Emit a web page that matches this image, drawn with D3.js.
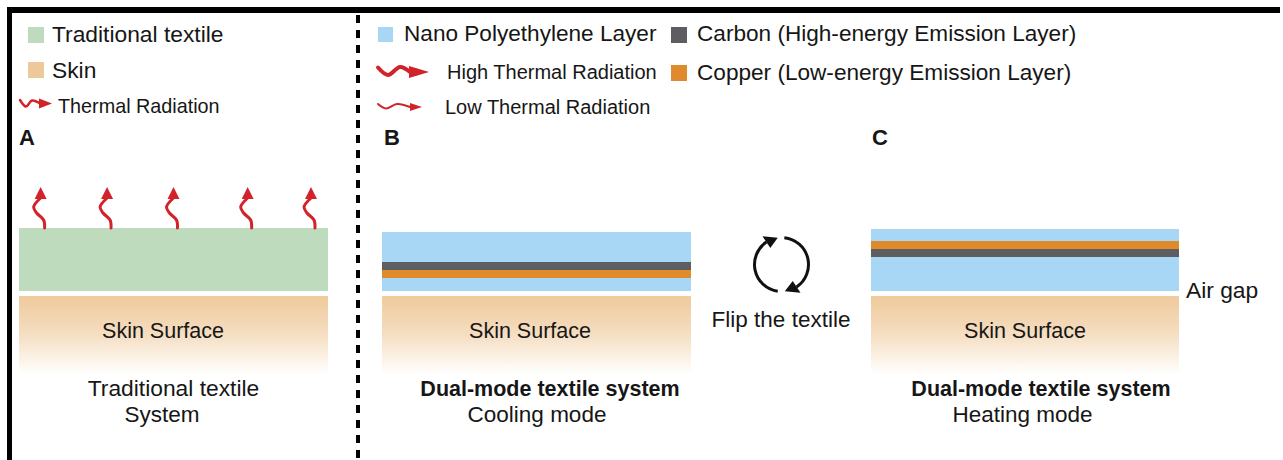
<!DOCTYPE html>
<html>
<head>
<meta charset="utf-8">
<script src="https://cdn.jsdelivr.net/npm/d3@7"></script>
<style>
  body { margin: 0; background: #fff; }
  svg { display: block; font-family: "Liberation Sans", Arial, Helvetica, sans-serif; }
</style>
</head>
<body>
<svg id="fig" width="1283" height="460"></svg>
<script>
// ---- figure content ----
const panelLabels = ["A", "B", "C"];
const legendA = ["Traditional textile", "Skin", "Thermal Radiation"];
const legendB = ["Nano Polyethylene Layer", "High Thermal Radiation", "Low Thermal Radiation"];
const legendB2 = ["Carbon (High-energy Emission Layer)", "Copper (Low-energy Emission Layer)"];

// layer stacks, top to bottom, thickness in arbitrary units
const traditionalLayers = ["textile"];
const traditionalThickness = [63];
const coolingLayers = ["pe", "carbon", "copper", "pe"];
const coolingThickness = [30, 8, 8, 13];
const heatingLayers = ["pe", "copper", "carbon", "pe"];
const heatingThickness = [12, 8, 8, 34];
const airGap = 5;
const skinThickness = 77;

// where the radiation arrows leave the traditional textile (fraction of width)
const radiationPos = [0.07, 0.285, 0.5, 0.74, 0.945];

const captionsA = ["Traditional textile", "System"];
const captionsB = ["Dual-mode textile system", "Cooling mode"];
const captionsC = ["Dual-mode textile system", "Heating mode"];

// ---- styles ----
const colors = {
    textile: "#bfdbbd",
    skin: "#edc999",
    pe: "#a8d7f5",
    carbon: "#5e5e62",
    copper: "#df8b2b",
    red: "#d2222a",
    ink: "#161616"
};

const svg = d3.select("#fig");

const defs = svg.append("defs");
const grad = defs.append("linearGradient").attr("id", "skinGrad")
    .attr("x1", 0).attr("y1", 0).attr("x2", 0).attr("y2", 1);
grad.append("stop").attr("offset", 0).attr("stop-color", "#efca9b");
grad.append("stop").attr("offset", 0.5).attr("stop-color", "#f5dec2");
grad.append("stop").attr("offset", 1).attr("stop-color", "#fffefc");

// frame + divider
svg.append("rect").attr("x", 7).attr("y", 7).attr("width", 1273).attr("height", 6).attr("fill", "#000");
svg.append("rect").attr("x", 7).attr("y", 7).attr("width", 5).attr("height", 453).attr("fill", "#000");
svg.append("line")
    .attr("x1", 358).attr("x2", 358).attr("y1", 15).attr("y2", 460)
    .attr("stroke", "#000").attr("stroke-width", 4)
    .attr("stroke-dasharray", "8 7");

// vertical scale: 0 = bottom of textile
const y = d3.scaleLinear().domain([0, 100]).range([291, 191]);

const text = (x, yy, str, size, opts = {}) => svg.append("text")
    .attr("x", x).attr("y", yy)
    .attr("font-size", size)
    .attr("font-weight", opts.bold ? "bold" : null)
    .attr("text-anchor", opts.anchor || "start")
    .attr("fill", colors.ink)
    .text(str);

const redLine = d3.line().curve(d3.curveCatmullRom.alpha(0.5));

function wave(points, head, width) {
    svg.append("path").attr("d", redLine(points))
        .attr("fill", "none").attr("stroke", colors.red)
        .attr("stroke-width", width).attr("stroke-linecap", "round");
    svg.append("polygon").attr("points", head.map(p => p.join(",")).join(" "))
        .attr("fill", colors.red);
}

// ---- legend A ----
const swA = [colors.textile, colors.skin];
svg.selectAll(".swA").data(swA).enter().append("rect")
    .attr("x", 28).attr("y", (d, i) => 27 + i * 35)
    .attr("width", 16).attr("height", 16).attr("fill", d => d);
text(52, 42, legendA[0], 22.8);
text(52, 78, legendA[1], 22.8);
wave([[20, 100], [26, 106.5], [32, 100.5], [40, 103.5]], [[39, 98.5], [52, 103.5], [39, 108.5]], 2.5);
text(58, 113, legendA[2], 19.8);

// ---- legend B ----
svg.append("rect").attr("x", 378).attr("y", 27).attr("width", 15).attr("height", 15).attr("fill", colors.pe);
text(404, 41, legendB[0], 22.6);
wave([[378, 67.5], [388, 75], [400, 67], [410, 72]], [[409, 66], [429, 72], [409, 78]], 4);
text(447, 79, legendB[1], 20);
wave([[378, 104], [386, 108.5], [397, 104], [410, 107]], [[410, 103], [422, 107], [410, 111]], 2);
text(445, 114, legendB[2], 20);

svg.append("rect").attr("x", 671).attr("y", 27).attr("width", 16).attr("height", 16).attr("fill", colors.carbon);
text(697, 41, legendB2[0], 22.6);
svg.append("rect").attr("x", 671).attr("y", 65).attr("width", 16).attr("height", 16).attr("fill", colors.copper);
text(697, 80, legendB2[1], 22.6);

// ---- panels ----
const panels = [
    { label: panelLabels[0], lx: 19, x0: 19, x1: 328, layers: traditionalLayers, thick: traditionalThickness,
      skinX: 163, caps: captionsA, capX: [173.5, 162], bold: false },
    { label: panelLabels[1], lx: 384, x0: 382, x1: 691, layers: coolingLayers, thick: coolingThickness,
      skinX: 530, caps: captionsB, capX: [550, 537], bold: true },
    { label: panelLabels[2], lx: 872, x0: 871, x1: 1179, layers: heatingLayers, thick: heatingThickness,
      skinX: 1025, caps: captionsC, capX: [1041, 1022.5], bold: true }
];

panels.forEach(p => {
    text(p.lx, 145, p.label, 22, { bold: true });

    // stack layers from the bottom of the textile upward
    const total = d3.sum(p.thick);
    let top = total;
    p.layers.forEach((m, i) => {
        const bottom = top - p.thick[i];
        svg.append("rect")
            .attr("x", p.x0).attr("width", p.x1 - p.x0)
            .attr("y", y(top)).attr("height", y(bottom) - y(top))
            .attr("fill", colors[m]);
        top = bottom;
    });

    svg.append("rect")
        .attr("x", p.x0).attr("width", p.x1 - p.x0)
        .attr("y", y(-airGap)).attr("height", y(-airGap - skinThickness) - y(-airGap))
        .attr("fill", "url(#skinGrad)");
    text(p.skinX, 338, "Skin Surface", 21.5, { anchor: "middle" });

    text(p.capX[0], 396, p.caps[0], p.bold ? 21.5 : 22.8, { anchor: "middle", bold: p.bold });
    text(p.capX[1], 422, p.caps[1], 22.5, { anchor: "middle" });
});

// radiation arrows rising from the traditional textile
const xA = d3.scaleLinear().domain([0, 1]).range([panels[0].x0, panels[0].x1]);
const topA = y(d3.sum(traditionalThickness));
radiationPos.forEach(f => {
    const xt = xA(f);
    wave([[xt, topA - 30], [xt - 7, topA - 21], [xt - 4, topA - 15], [xt + 3, topA - 8], [xt + 4, topA]],
        [[xt - 6, topA - 29], [xt, topA - 41], [xt + 6, topA - 29]], 3);
});

// ---- flip icon ----
const cx = 781.5, cy = 264.5, r = 27;
const deg = Math.PI / 180;
const pt = (phi, rr) => [cx + rr * Math.sin(phi * deg), cy - rr * Math.cos(phi * deg)];
function flipArc(a0, a1, tip) {
    const path = d3.path();
    path.arc(cx, cy, r, (a0 - 90) * deg, (a1 - 90) * deg, false);
    svg.append("path").attr("d", path.toString())
        .attr("fill", "none").attr("stroke", "#111").attr("stroke-width", 3);
    const base = tip > a1 ? a1 : a0;
    svg.append("polygon")
        .attr("points", [pt(base, r - 7), pt(tip, r), pt(base, r + 7)].map(q => q.join(",")).join(" "))
        .attr("fill", "#111");
}
flipArc(-172, -34, -8);
flipArc(6, 146, 173);

text(781, 327, "Flip the textile", 22.5, { anchor: "middle" });
text(1186, 298, "Air gap", 22.8);
</script>
</body>
</html>
